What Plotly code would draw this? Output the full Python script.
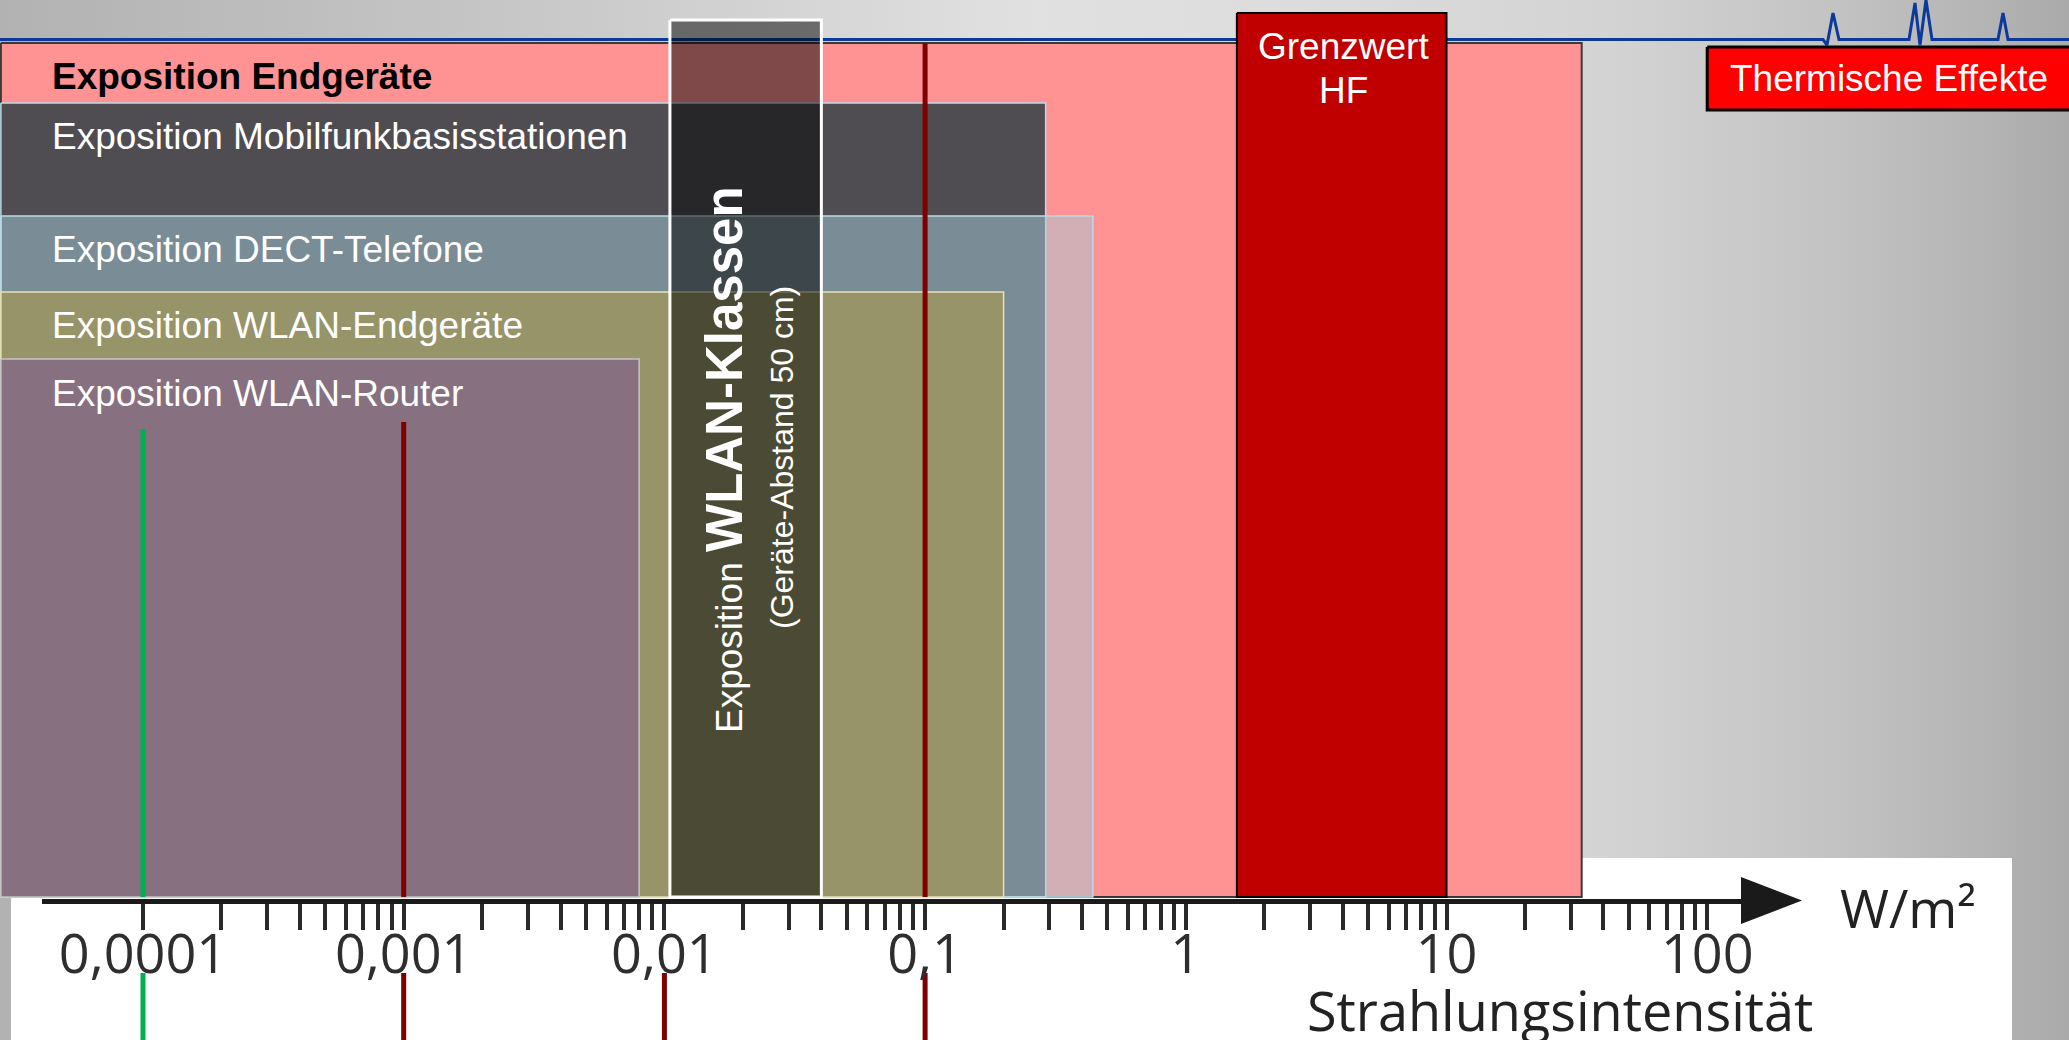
import base64
import math
import plotly.graph_objects as go

# ---------------- data (values in W/m^2) ----------------
categories = [
    "Exposition Endgeräte",
    "Exposition Mobilfunkbasisstationen",
    "Exposition DECT-Telefone",
    "Exposition WLAN-Endgeräte",
    "Exposition WLAN-Router",
]
exposure_low = [2.85e-5, 2.85e-5, 2.85e-5, 2.85e-5, 2.85e-5]   # ranges start beyond the left end of the scale
exposure_high = [33, 0.29, 0.44, 0.2, 0.008]

wlan_class_range = [0.0105, 0.04]
grenzwert_range = [1.57, 10]
thermisch_range = [100, 10000]

marker_values_upper = [0.0001, 0.001, 0.1]
marker_values_lower = [0.0001, 0.001, 0.01, 0.1]

tick_values = [0.0001, 0.001, 0.01, 0.1, 1, 10, 100]
tick_labels = ["0,0001", "0,001", "0,01", "0,1", "1", "10", "100"]

# ---------------- layout constants ----------------
W, H = 2069, 1040
PX_AT_1E4 = 143.0        # pixel position of 0.0001 W/m^2
PX_PER_DECADE = 260.7


def px_to_log(px):
    return -4 + (px - PX_AT_1E4) / PX_PER_DECADE


def px_to_val(px):
    return 10 ** px_to_log(px)


def py_paper(py):
    return 1 - py / H


row_top = [43, 103, 216, 292, 359]
row_bottom = 897
row_fill = ["#ff9393", "#4f4d52", "rgba(165,204,216,0.5)", "#979469", "#877080"]
row_line = ["#3a3a3a", "#b9dbe6", "#b9dbe6", "#e9e2b4", "#c4c4c4"]
row_line_w = [2, 1.5, 1.5, 1.5, 1.5]
row_text_color = ["black", "white", "white", "white", "white"]
row_text_y = [77, 137, 249, 325, 393]

marker_upper_top = [429, 422, 43]
marker_upper_color = ["#00b050", "#800000", "#800000"]
marker_lower_color = ["#00b050", "#800000", "#800000", "#800000"]

# decorative ECG-like line (pixel path)
ecg_px = [0, 1823, 1827, 1833, 1839, 1909, 1915, 1920, 1926, 1932, 1998, 2003, 2008, 2069]
ecg_py = [39.5, 39.5, 45, 13, 39.5, 39.5, 3, 45, 0, 39.5, 39.5, 13, 39.5, 39.5]

fig = go.Figure()


def rect(x0, x1, y0, y1, fill, line_color, line_w):
    fig.add_trace(go.Scatter(
        x=[x0, x1, x1, x0, x0], y=[y0, y0, y1, y1, y0],
        mode="lines", fill="toself", fillcolor=fill,
        line=dict(color=line_color, width=line_w),
        hoverinfo="skip", showlegend=False))


# ECG line (behind boxes)
fig.add_trace(go.Scatter(x=[px_to_val(p) for p in ecg_px], y=ecg_py, mode="lines",
                         line=dict(color="#0b3a9b", width=3), hoverinfo="skip", showlegend=False))

# exposure ranges
for i in range(len(categories)):
    rect(exposure_low[i], exposure_high[i], row_top[i], row_bottom,
         row_fill[i], row_line[i], row_line_w[i])

# WLAN classes (transparent dark box)
rect(wlan_class_range[0], wlan_class_range[1], 20, row_bottom, "rgba(0,0,0,0.5)", "white", 3)
# limit value box
rect(grenzwert_range[0], grenzwert_range[1], 13, row_bottom, "#c00000", "black", 2)
# thermal effects box
rect(thermisch_range[0], thermisch_range[1], 47, 110, "#ff0000", "black", 3)

# vertical marker lines
for v, top, c in zip(marker_values_upper, marker_upper_top, marker_upper_color):
    fig.add_trace(go.Scatter(x=[v, v], y=[top, row_bottom], mode="lines",
                             line=dict(color=c, width=5), hoverinfo="skip", showlegend=False))
for v, c in zip(marker_values_lower, marker_lower_color):
    fig.add_trace(go.Scatter(x=[v, v], y=[973, H + 5], mode="lines",
                             line=dict(color=c, width=5), hoverinfo="skip", showlegend=False))

# dummy trace for the drawn scale axis
fig.add_trace(go.Scatter(x=tick_values, y=[0.5] * len(tick_values), xaxis="x2", yaxis="y2",
                         mode="markers", marker=dict(opacity=0), hoverinfo="skip", showlegend=False))

minor_vals = [m * 10 ** e for e in range(-4, 2) for m in range(2, 10)]

axis_x0, axis_x1 = 42, 1743
axis_y = 900.5

fig.update_layout(
    template="none",
    width=W, height=H, autosize=False,
    margin=dict(l=0, r=0, t=0, b=0, pad=0, autoexpand=False),
    paper_bgcolor="#c8c8c8", plot_bgcolor="rgba(0,0,0,0)",
    showlegend=False,
    xaxis=dict(type="log", range=[px_to_log(0), px_to_log(W)], visible=False,
               domain=[0, 1], fixedrange=True, automargin=False),
    yaxis=dict(range=[H, 0], visible=False, domain=[0, 1], fixedrange=True, automargin=False),
    xaxis2=dict(type="log", domain=[axis_x0 / W, axis_x1 / W],
                range=[px_to_log(axis_x0), px_to_log(axis_x1)],
                anchor="free", position=py_paper(axis_y), automargin=False,
                showline=True, linewidth=5, linecolor="#1a1a1a",
                showgrid=False, zeroline=False,
                tickmode="array", tickvals=tick_values, ticktext=tick_labels,
                ticks="outside", ticklen=26, tickwidth=3.5, tickcolor="#2a2a2a",
                tickfont=dict(family="Open Sans", size=54, color="#2e2e2e"),
                ticklabelstandoff=-21,
                minor=dict(tickvals=minor_vals, ticks="outside", ticklen=26,
                           tickwidth=3.5, tickcolor="#2a2a2a", showgrid=False),
                fixedrange=True),
    yaxis2=dict(domain=[0, 1], anchor="x2", range=[0, 1], visible=False, fixedrange=True,
                automargin=False),
)

# background gradient
svg = (
    "<svg xmlns='http://www.w3.org/2000/svg' width='2069' height='1040' preserveAspectRatio='none'>"
    "<defs><linearGradient id='g' x1='0' y1='0' x2='1' y2='0'>"
    "<stop offset='0' stop-color='#b2b2b2'/>"
    "<stop offset='0.25' stop-color='#c7c7c7'/>"
    "<stop offset='0.5' stop-color='#e1e1e1'/>"
    "<stop offset='0.65' stop-color='#dbdbdb'/>"
    "<stop offset='0.78' stop-color='#d3d3d3'/>"
    "<stop offset='0.88' stop-color='#c4c4c4'/>"
    "<stop offset='0.95' stop-color='#b6b6b6'/>"
    "<stop offset='1' stop-color='#aaaaaa'/>"
    "</linearGradient></defs><rect width='2069' height='1040' fill='url(#g)'/></svg>"
)
fig.add_layout_image(dict(
    source="data:image/svg+xml;base64," + base64.b64encode(svg.encode()).decode(),
    xref="paper", yref="paper", x=0, y=1, sizex=1, sizey=1,
    xanchor="left", yanchor="top", sizing="stretch", layer="below"))

# white panel behind the scale
fig.add_shape(type="rect", xref="paper", yref="paper", x0=11 / W, x1=2012 / W,
              y0=py_paper(H + 10), y1=py_paper(858), fillcolor="white",
              line=dict(width=0), layer="below")

# arrow head of the scale
fig.add_shape(type="path", xref="paper", yref="paper",
              path=f"M {1741 / W},{py_paper(877)} L {1802 / W},{py_paper(900.5)} L {1741 / W},{py_paper(924)} Z",
              fillcolor="#1a1a1a", line=dict(width=0), layer="above")

ann = []
arial = "Liberation Sans, Arial, sans-serif"
for i, name in enumerate(categories):
    txt = f"<b>{name}</b>" if i == 0 else name
    ann.append(dict(text=txt, x=50 / W, y=py_paper(row_text_y[i]), xanchor="left", yanchor="middle",
                    font=dict(family=arial, size=37, color=row_text_color[i])))

ann.append(dict(text="Exposition <b><span style='font-size:51px'>WLAN-Klassen</span></b>",
                x=724 / W, y=py_paper(460), textangle=-90, xanchor="center", yanchor="middle",
                font=dict(family=arial, size=37, color="white")))
ann.append(dict(text="(Geräte-Abstand 50 cm)", x=782 / W, y=py_paper(458), textangle=-90,
                xanchor="center", yanchor="middle", font=dict(family=arial, size=32, color="white")))
ann.append(dict(text="Grenzwert", x=1343 / W, y=py_paper(47), xanchor="center", yanchor="middle",
                font=dict(family=arial, size=37, color="white")))
ann.append(dict(text="HF", x=1343 / W, y=py_paper(90), xanchor="center", yanchor="middle",
                font=dict(family=arial, size=37, color="white")))
ann.append(dict(text="Thermische Effekte", x=1889 / W, y=py_paper(79), xanchor="center", yanchor="middle",
                font=dict(family=arial, size=37, color="white")))
ann.append(dict(text="Strahlungsintensität", x=1560 / W, y=py_paper(1010), xanchor="center", yanchor="middle",
                font=dict(family="Open Sans", size=54, color="#222222")))
ann.append(dict(text="W/m²", x=1838 / W, y=py_paper(907), xanchor="left", yanchor="middle",
                font=dict(family="Open Sans", size=53, color="#222222")))
for a in ann:
    a.update(xref="paper", yref="paper", showarrow=False)
fig.update_layout(annotations=ann)

fig.write_html("out.html", config={"displayModeBar": False},
               post_script="document.documentElement.style.overflow='hidden';"
                           "document.body.style.margin='0';document.body.style.overflow='hidden';")
